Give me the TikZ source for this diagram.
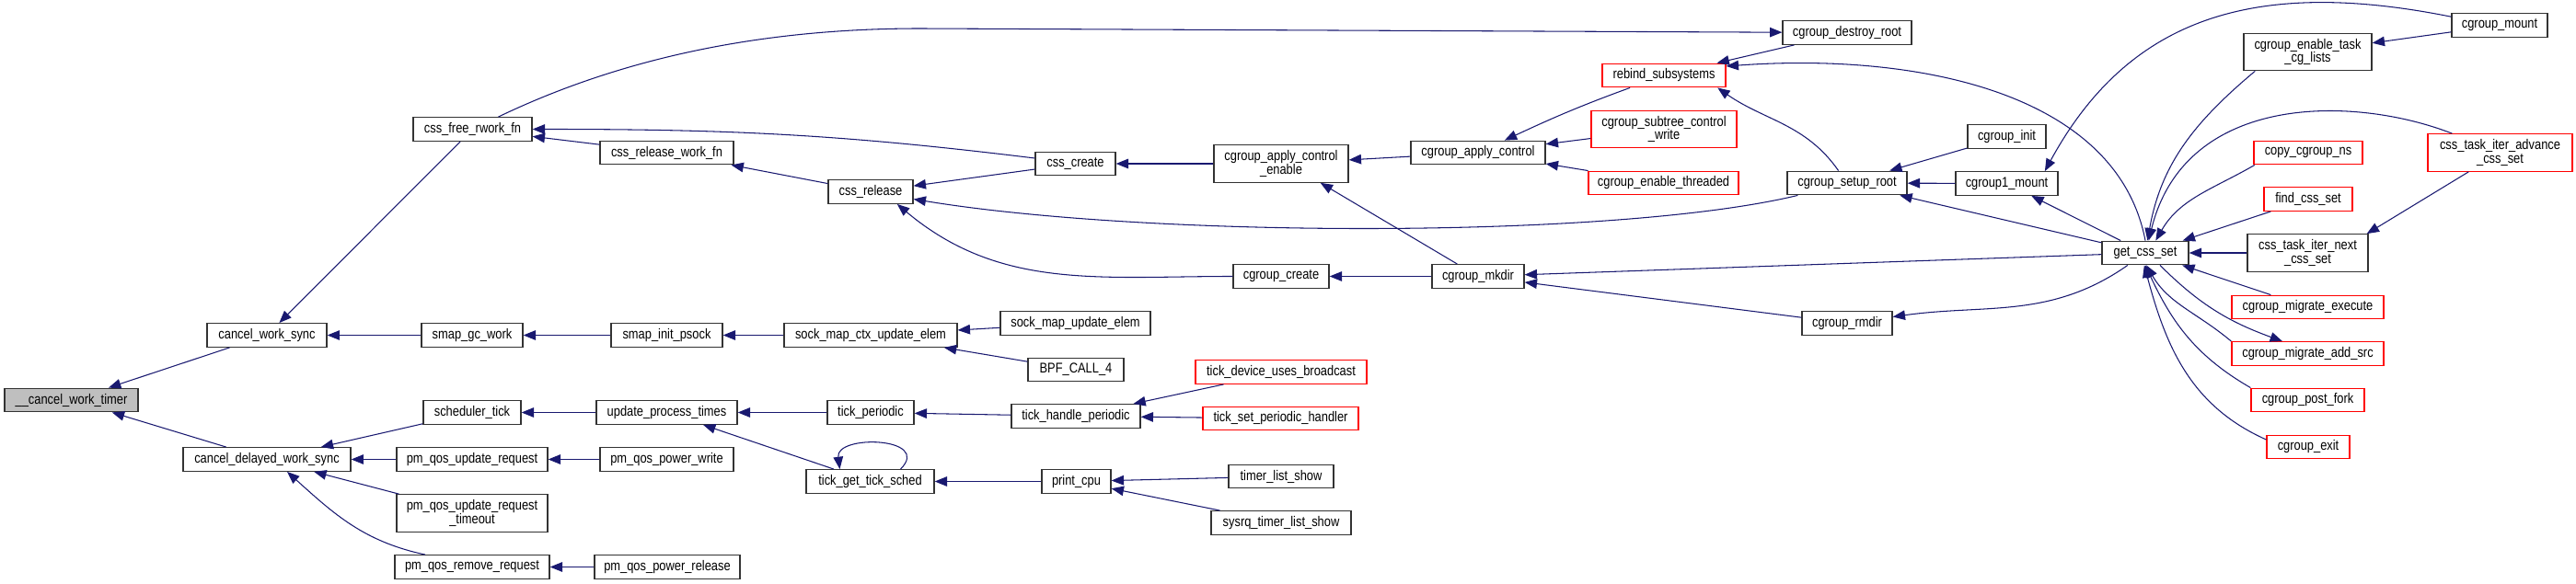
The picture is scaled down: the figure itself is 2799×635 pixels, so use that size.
\documentclass[tikz,border=0pt]{standalone}
\usepackage{fontspec}
\setmainfont{Liberation Sans}[FakeStretch=0.84]
\usetikzlibrary{arrows.meta, calc}
\definecolor{callblue}{RGB}{25,25,112}
\definecolor{truncred}{RGB}{255,0,0}
\definecolor{rootgrey}{RGB}{191,191,191}

\begin{document}
\begin{tikzpicture}[
    x=0.025cm, y=-0.025cm,
    fn/.style={draw=black!80, line width=0.9pt, fill=white, inner sep=0pt, minimum height=0.64cm, align=center, font=\fontsize{10.9}{10.6}\selectfont},
    trunc/.style={fn, draw=truncred},
    rootfn/.style={fn, fill=rootgrey},
    tall/.style={minimum height=1.01cm},
    wd/.style={minimum width=#1*0.025cm},
    call/.style={draw=callblue, line width=0.75pt, -{Triangle[length=9.5pt, width=7.5pt]}}
]
\useasboundingbox (0,0) rectangle (2799,635);

\node[rootfn, wd=145] (cwt) at (77.5, 435) {\_\_cancel\_work\_timer};

\node[fn, wd=130] (cws) at (290, 364.5) {cancel\_work\_sync};
\node[fn, wd=182] (cdws) at (290, 499.5) {cancel\_delayed\_work\_sync};

\node[fn, wd=129] (cfr) at (513.5, 140.5) {css\_free\_rwork\_fn};
\node[fn, wd=110] (sgw) at (513, 364.5) {smap\_gc\_work};
\node[fn, wd=106] (st) at (513, 448.5) {scheduler\_tick};
\node[fn, wd=164] (pqur) at (513, 499.5) {pm\_qos\_update\_request};
\node[fn, tall, wd=164] (pqurt) at (513, 558) {pm\_qos\_update\_request\\\_timeout};
\node[fn, wd=168] (pqrr) at (513, 616.5) {pm\_qos\_remove\_request};

\node[fn, wd=145] (crwf) at (724.5, 166) {css\_release\_work\_fn};
\node[fn, wd=121] (sip) at (724.5, 364.5) {smap\_init\_psock};
\node[fn, wd=153] (upt) at (724.5, 448.5) {update\_process\_times};
\node[fn, wd=145] (pqpw) at (724.5, 499.5) {pm\_qos\_power\_write};
\node[fn, wd=158] (pqpr) at (725, 616.5) {pm\_qos\_power\_release};

\node[fn, wd=92] (crel) at (946, 208.5) {css\_release};
\node[fn, wd=188] (smcue) at (946, 364.5) {sock\_map\_ctx\_update\_elem};
\node[fn, wd=94] (tp) at (946, 448.5) {tick\_periodic};
\node[fn, wd=139] (tgts) at (945.5, 523.5) {tick\_get\_tick\_sched};

\node[fn, wd=87] (ccre) at (1168.5, 178) {css\_create};
\node[fn, wd=163] (smue) at (1168.5, 351.5) {sock\_map\_update\_elem};
\node[fn, wd=104] (bpf) at (1169, 402) {BPF\_CALL\_4};
\node[fn, wd=140] (thp) at (1169, 452.5) {tick\_handle\_periodic};
\node[fn, wd=75] (pcpu) at (1169.5, 523.5) {print\_cpu};

\node[fn, tall, wd=146] (cace) at (1392, 178) {cgroup\_apply\_control\\\_enable};
\node[fn, wd=104] (ccr) at (1392, 300.5) {cgroup\_create};
\node[trunc, wd=186] (tdub) at (1392, 404.5) {tick\_device\_uses\_broadcast};
\node[trunc, wd=169] (tsph) at (1391.5, 455) {tick\_set\_periodic\_handler};
\node[fn, wd=114] (tls) at (1392, 518) {timer\_list\_show};
\node[fn, wd=152] (stls) at (1392, 568.5) {sysrq\_timer\_list\_show};

\node[fn, wd=146] (cac) at (1606, 166) {cgroup\_apply\_control};
\node[fn, wd=100] (cmk) at (1606, 300.5) {cgroup\_mkdir};

\node[trunc, wd=134] (rbs) at (1808, 82) {rebind\_subsystems};
\node[trunc, tall, wd=158] (cscw) at (1808, 140.5) {cgroup\_subtree\_control\\\_write};
\node[trunc, wd=163] (cet) at (1807.5, 199) {cgroup\_enable\_threaded};

\node[fn, wd=140] (cdr) at (2007, 35.5) {cgroup\_destroy\_root};
\node[fn, wd=130] (csr) at (2007, 199) {cgroup\_setup\_root};
\node[fn, wd=98] (crm) at (2007, 351.5) {cgroup\_rmdir};

\node[fn, wd=85] (cin) at (2180.5, 148.5) {cgroup\_init};
\node[fn, wd=111] (c1m) at (2180.5, 199.5) {cgroup1\_mount};

\node[fn, wd=94] (gcs) at (2331, 275) {get\_css\_set};

\node[fn, tall, wd=139] (cetcl) at (2507.5, 56.5) {cgroup\_enable\_task\\\_cg\_lists};
\node[trunc, wd=118] (ccn) at (2508, 166) {copy\_cgroup\_ns};
\node[trunc, wd=96] (fcs) at (2508, 216.5) {find\_css\_set};
\node[fn, tall, wd=131] (ctincs) at (2507.5, 275) {css\_task\_iter\_next\\\_css\_set};
\node[trunc, wd=165] (cme) at (2507.5, 334) {cgroup\_migrate\_execute};
\node[trunc, wd=165] (cmas) at (2507.5, 384.5) {cgroup\_migrate\_add\_src};
\node[trunc, wd=123] (cpf) at (2507.5, 435) {cgroup\_post\_fork};
\node[trunc, wd=90] (cex) at (2508, 486) {cgroup\_exit};

\node[fn, wd=104] (cgm) at (2716, 27.5) {cgroup\_mount};
\node[trunc, tall, wd=157] (ctiacs) at (2716.5, 166) {css\_task\_iter\_advance\\\_css\_set};

\foreach \src/\dst in {cws/cwt, cdws/cwt, cfr/cws, sgw/cws, sip/sgw, smcue/sip, smue/smcue, bpf/smcue,
    st/cdws, pqur/cdws, pqurt/cdws, upt/st, pqpw/pqur, pqpr/pqrr, tp/upt, tgts/upt,
    thp/tp, tdub/thp, tsph/thp, pcpu/tgts, tls/pcpu, stls/pcpu,
    crwf/cfr, crel/crwf, ccre/crel, cace/ccre, cmk/ccr, cac/cace, cscw/cac, cet/cac,
    cdr/rbs, cin/csr, c1m/csr, gcs/csr, gcs/cmk, crm/cmk, gcs/c1m, cgm/cetcl,
    fcs/gcs, ctincs/gcs, cme/gcs}
    \draw[call] (\src) -- (\dst);

\draw[call] (cmk) -- (cace.-26);
\draw[call] (ctiacs) -- (ctincs.18);

\draw[call] ($(pqrr.north)+(-51,0)$) to[out=168, in=-42] ($(cdws.south)+(22,0)$);
\draw[call] ($(tgts.north)+(33,0)$) .. controls +(35,-35) and +(-5,-38) .. ($(tgts.north)+(-33,0)$);

\coordinate (topbend) at (1000, 31);
\draw[call] ($(cfr.north)+(28,0)$) .. controls +(150,-72) and +(-150,0) .. (topbend) -- (cdr);
\draw[call] ($(ccre.west)+(0,-6)$) to[out=173, in=0] (cfr.east);
\draw[call] ($(csr.south west)+(12,0)$) .. controls +(-200,48) and +(255,42) .. ($(crel.east)+(0,8)$);
\draw[call] (ccr) to[out=180, in=-40] (crel.-25);

\draw[call] (rbs) to[out=200, in=25] (cac);
\draw[call] (csr) to[out=125, in=-35] (rbs.-13);
\draw[call] (gcs.north) .. controls +(-31,-162) and +(205,-15) .. ($(rbs.east)+(0,-10)$);

\draw[call] (gcs) to[out=215, in=8] (crm);
\draw[call] (cgm.170) .. controls +(-214,-43) and +(91,-167) .. (c1m.18);
\draw[call] (cetcl.200) to[out=220, in=80] (gcs.80);
\draw[call] ($(ctiacs.north west)+(27,0)$) .. controls +(-105,-41) and +(40,-162) .. (gcs.75);
\draw[call] (ccn.193) to[out=210, in=60] (gcs.50);

\draw[call] (cmas.north west) to[out=140, in=-60] (gcs.-85);
\draw[call] (gcs.-40) to[out=-45, in=160] (cmas.154);
\draw[call] (cpf.north west) to[out=150, in=-65] (gcs.-90);
\draw[call] ($(cex.west)+(0,-8)$) to[out=156, in=-75] (gcs.-95);

\end{tikzpicture}
\end{document}
